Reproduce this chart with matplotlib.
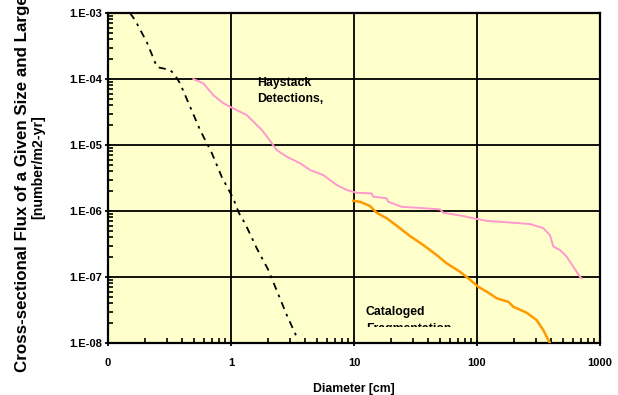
import matplotlib
matplotlib.use("Agg")
import matplotlib.pyplot as plt
from matplotlib.ticker import FixedLocator, NullFormatter, LogLocator
from matplotlib.transforms import Bbox, TransformedBbox

plt.rcParams['font.family'] = ['Liberation Sans', 'DejaVu Sans']
plt.rcParams['font.weight'] = 'bold'

# Haystack detections (pink)
hay_d = [0.494, 0.596, 0.718, 0.866, 1.01, 1.34, 1.78, 2.01, 2.35, 2.84, 3.64, 4.39,
         5.63, 7.23, 8.72, 10.5, 13.9, 14.3, 18.4, 19.0, 24.4, 37.8, 50, 53.2, 77.4,
         93.3, 120, 185, 270, 346, 392, 417, 473, 536, 607, 687, 709]
hay_f = [1.0e-4, 8.6e-5, 5.7e-5, 4.3e-5, 3.7e-5, 2.85e-5, 1.69e-5, 1.26e-5, 8.4e-6,
         6.65e-6, 5.3e-6, 4.18e-6, 3.5e-6, 2.48e-6, 2.08e-6, 1.89e-6, 1.85e-6, 1.65e-6,
         1.56e-6, 1.38e-6, 1.16e-6, 1.10e-6, 1.06e-6, 9.4e-7, 8.4e-7, 7.75e-7, 7.1e-7,
         6.7e-7, 6.35e-7, 5.5e-7, 4.3e-7, 2.9e-7, 2.56e-7, 2.03e-7, 1.43e-7, 1.01e-7, 9.6e-8]

# Cataloged fragmentation (orange)
cat_d = [9.87, 11.2, 13.5, 15.3, 18.5, 23.7, 28.5, 36.6, 47, 56.7, 72.8, 85, 102.5,
         120, 145, 180, 197, 253, 305, 346, 392]
cat_f = [1.43e-6, 1.38e-6, 1.19e-6, 9.4e-7, 7.75e-7, 5.47e-7, 4.18e-7, 3.05e-7, 2.15e-7,
         1.61e-7, 1.2e-7, 9.55e-8, 7.1e-8, 6.0e-8, 4.75e-8, 4.2e-8, 3.55e-8, 2.88e-8,
         2.23e-8, 1.57e-8, 9.9e-9]

# dashed black curve
dash_d = [0.151, 0.166, 0.207, 0.25, 0.32, 0.35, 0.385, 0.465, 0.56, 0.697, 0.84,
          1.04, 1.16, 1.30, 1.62, 2.01, 2.84, 3.52]
dash_f = [1e-3, 7.8e-4, 3.6e-4, 1.52e-4, 1.37e-4, 1.15e-4, 8.6e-5, 3.8e-5, 1.69e-5,
          7.6e-6, 3.3e-6, 1.57e-6, 9.3e-7, 6.5e-7, 2.72e-7, 1.28e-7, 2.65e-8, 1.1e-8]

x_ticks = [0.1, 1, 10, 100, 1000]
x_labels = ["0", "1", "10", "100", "1000"]
y_ticks = [1e-8, 1e-7, 1e-6, 1e-5, 1e-4, 1e-3]
y_labels = ["1.E-08", "1.E-07", "1.E-06", "1.E-05", "1.E-04", "1.E-03"]

fig = plt.figure(figsize=(6.18, 3.95), dpi=100)
ax = fig.add_axes([0.1748, 0.1316, 0.7961, 0.8354])
ax.set_facecolor("#FFFFCC")
ax.set_xscale("log")
ax.set_yscale("log")
ax.set_xlim(0.1, 1000)
ax.set_ylim(1e-8, 1e-3)

ax.plot(dash_d, dash_f, color="black", lw=1.3, ls=(0, (4, 3, 1.5, 3)), zorder=3)
ax.plot(hay_d, hay_f, color="#FF99CC", lw=1.4, zorder=3)
ax.plot(cat_d, cat_f, color="#FF9900", lw=1.8, zorder=3)

ax.xaxis.set_major_locator(FixedLocator(x_ticks))
ax.set_xticklabels(x_labels)
ax.yaxis.set_major_locator(FixedLocator(y_ticks))
ax.set_yticklabels(y_labels)
ax.xaxis.set_minor_locator(LogLocator(base=10, subs=range(2, 10)))
ax.yaxis.set_minor_locator(LogLocator(base=10, subs=range(2, 10)))
ax.xaxis.set_minor_formatter(NullFormatter())
ax.yaxis.set_minor_formatter(NullFormatter())

ax.grid(True, which="major", color="black", lw=1.3)
ax.set_axisbelow(False)
for s in ax.spines.values():
    s.set_linewidth(1.6)
    s.set_color("black")

ax.tick_params(axis="both", which="major", direction="inout", length=5, width=1.3,
               labelsize=8)
ax.tick_params(axis="x", which="major", pad=8)
ax.tick_params(axis="y", which="major", pad=2)
ax.tick_params(axis="both", which="minor", direction="in", length=3.5, width=1.2)

ax.text(1.62, 6.6e-5, "Haystack\nDetections,", fontsize=8.8, fontweight="bold",
        ha="left", va="center", linespacing=1.4, zorder=4)
# second line is cut off by the text box in the original
t = ax.text(12.5, 3.6e-8, "Cataloged\nFragmentation", fontsize=8.8, fontweight="bold",
            ha="left", va="top", linespacing=1.55, zorder=4)
t.set_clip_box(TransformedBbox(Bbox([[0, 0.05], [1, 1]]), ax.transAxes))
t.set_clip_on(True)

ax.set_xlabel("Diameter [cm]", fontsize=8.8, fontweight="bold", labelpad=11)
fig.text(23 / 618, 1 - 372 / 395, "Cross-sectional Flux of a Given Size and Larger",
         rotation=90, ha="center", va="bottom", fontsize=12.2, fontweight="bold")
fig.text(38 / 618, 1 - 167 / 395, "[number/m2-yr]",
         rotation=90, ha="center", va="center", fontsize=10.2, fontweight="bold")

fig.savefig("out.png", dpi=100)
